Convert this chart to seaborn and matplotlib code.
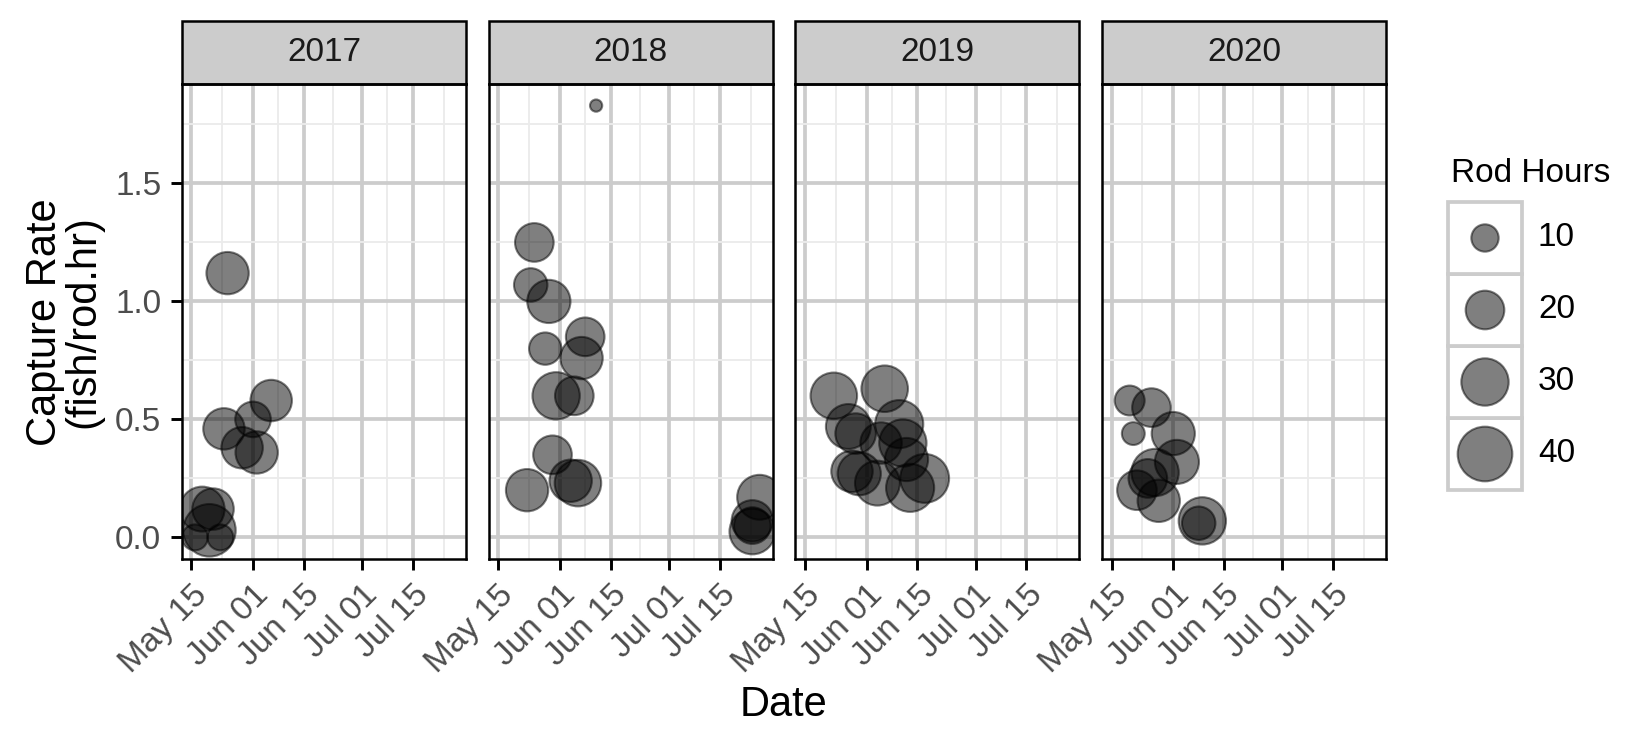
import pandas as pd
import matplotlib.pyplot as plt
import matplotlib.dates as mdates
from matplotlib.patches import Rectangle
import seaborn as sns

# === Values ===
years = [2017, 2018, 2019, 2020]

dates_2017 = ["05-25", "06-06", "06-01", "05-24", "05-29", "06-02",
              "05-18", "05-21", "05-20", "05-23", "05-16"]
rate_2017 = [1.12, 0.58, 0.50, 0.46, 0.38, 0.36, 0.12, 0.12, 0.03, 0.00, 0.00]
hours_2017 = [24, 23, 17, 23, 23, 24, 27, 23, 37, 9, 9]

dates_2018 = ["06-11", "05-25", "05-24", "05-29", "06-08", "05-28", "06-07",
              "05-31", "06-05", "05-30", "05-23", "06-04", "06-06",
              "07-26", "07-24", "07-24", "07-24"]
rate_2018 = [1.83, 1.25, 1.07, 1.00, 0.85, 0.80, 0.76,
             0.60, 0.60, 0.35, 0.20, 0.24, 0.23,
             0.17, 0.07, 0.05, 0.025]
hours_2018 = [2, 20, 15, 25, 20, 14, 24, 30, 20, 20, 24, 24, 29, 27, 23, 18, 28]

dates_2019 = ["05-23", "06-06", "05-27", "05-29", "06-10", "06-05", "06-11",
              "06-12", "05-28", "05-30", "06-04", "06-13", "06-17"]
rate_2019 = [0.60, 0.63, 0.47, 0.44, 0.48, 0.40, 0.40,
             0.33, 0.28, 0.27, 0.23, 0.21, 0.25]
hours_2019 = [29, 29, 27, 22, 31, 23, 30, 25, 23, 25, 27, 31, 32]

dates_2020 = ["05-20", "05-26", "05-21", "06-01", "06-02", "05-27",
              "05-25", "05-22", "05-28", "06-09", "06-08"]
rate_2020 = [0.58, 0.55, 0.44, 0.44, 0.32, 0.275, 0.25, 0.20, 0.155, 0.07, 0.06]
hours_2020 = [12, 20, 7, 25, 26, 30, 20, 21, 24, 30, 15]

legend_hours = [10, 20, 30, 40]
date_ticks = ["05-15", "06-01", "06-15", "07-01", "07-15"]

# === Build one long table ===
frames = []
for yr, d, r, h in zip(years,
                       [dates_2017, dates_2018, dates_2019, dates_2020],
                       [rate_2017, rate_2018, rate_2019, rate_2020],
                       [hours_2017, hours_2018, hours_2019, hours_2020]):
    frames.append(pd.DataFrame({
        "year": yr,
        "date": pd.to_datetime(["2000-" + s for s in d]),
        "rate": r,
        "hours": h,
    }))
df = pd.concat(frames, ignore_index=True)

# === Style ===
sns.set_style("white")
plt.rcParams["font.family"] = ["Liberation Sans", "DejaVu Sans"]

grid_major = "#CCCCCC"
grid_minor = "#EBEBEB"
size_range = (0, 172)
size_norm = (0, 40)

fig, axes = plt.subplots(1, 4, figsize=(5.5, 2.5), dpi=300, sharex=True, sharey=True)
fig.subplots_adjust(left=0.1103, right=0.840, top=0.888, bottom=0.2547, wspace=0.081)

# ggplot-like 5% expansion of the data range
xmin, xmax = pd.Timestamp("2000-05-16"), df["date"].max()
xpad = (xmax - xmin) * 0.05
ymin, ymax = df["rate"].min(), df["rate"].max()
ypad = (ymax - ymin) * 0.05

major_x = pd.to_datetime(["2000-" + s for s in date_ticks])
minor_x = [major_x[i] + (major_x[i + 1] - major_x[i]) / 2 for i in range(len(major_x) - 1)]
minor_x.append(major_x[-1] + (pd.Timestamp("2000-08-01") - major_x[-1]) / 2)

strip_h = 63 / 475

for ax, yr in zip(axes, years):
    sub = df[df["year"] == yr]
    sns.scatterplot(data=sub, x="date", y="rate", size="hours",
                    sizes=size_range, size_norm=size_norm,
                    color="black", alpha=0.5, edgecolor="black",
                    linewidth=0.5, legend=False, ax=ax, zorder=3)
    ax.set_xlim(xmin - xpad, xmax + xpad)
    ax.set_ylim(ymin - ypad, ymax + ypad)
    ax.set_xticks(major_x)
    ax.set_xticks(minor_x, minor=True)
    ax.xaxis.set_major_formatter(mdates.DateFormatter("%b %d"))
    ax.set_yticks([0.0, 0.5, 1.0, 1.5])
    ax.set_yticks([0.25, 0.75, 1.25, 1.75], minor=True)
    ax.yaxis.set_major_formatter(plt.FormatStrFormatter("%.1f"))
    ax.set_axisbelow(True)
    ax.grid(which="major", color=grid_major, linewidth=0.9)
    ax.grid(which="minor", color=grid_minor, linewidth=0.45)
    ax.tick_params(which="major", direction="out", length=2.75, width=0.7,
                   color="black", labelsize=8, labelcolor="#4D4D4D", pad=2.2,
                   bottom=True, left=(ax is axes[0]))
    ax.tick_params(which="minor", length=0)
    for lab in ax.get_xticklabels():
        lab.set_rotation(45)
        lab.set_ha("right")
        lab.set_rotation_mode("anchor")
    for sp in ax.spines.values():
        sp.set_color("black")
        sp.set_linewidth(0.6)
    ax.set_xlabel("")
    ax.set_ylabel("")

    # facet strip
    ax.add_patch(Rectangle((0, 1), 1, strip_h, transform=ax.transAxes,
                           facecolor="#CCCCCC", edgecolor="black",
                           linewidth=0.6, clip_on=False))
    ax.text(0.5, 1 + strip_h / 2, str(yr), transform=ax.transAxes,
            ha="center", va="center", fontsize=8, color="#1A1A1A")

fig.text(0.475, 0.06, "Date", ha="center", va="center", fontsize=10, color="black")
fig.text(0.039, 0.571, "Capture Rate\n(fish/rod.hr)", ha="center", va="center",
         rotation=90, fontsize=10, linespacing=0.95, multialignment="center",
         color="black")

# === Size legend ===
leg_ax = fig.add_axes([1448 / 1650, 1 - 490 / 750, 74 / 1650, 288 / 750])
leg_ax.set_xlim(0, 1)
leg_ax.set_ylim(0, len(legend_hours))
leg_df = pd.DataFrame({
    "x": [0.5] * len(legend_hours),
    "y": [len(legend_hours) - i - 0.5 for i in range(len(legend_hours))],
    "hours": legend_hours,
})
for i in range(len(legend_hours)):
    leg_ax.add_patch(Rectangle((0, i), 1, 1, facecolor="white",
                               edgecolor=grid_major, linewidth=0.9, clip_on=False))
sns.scatterplot(data=leg_df, x="x", y="y", size="hours", sizes=size_range,
                size_norm=size_norm, color="black", alpha=0.5, edgecolor="black",
                linewidth=0.5, legend=False, ax=leg_ax, zorder=3, clip_on=False)
leg_ax.axis("off")
for y, h in zip(leg_df["y"], legend_hours):
    leg_ax.text(1.216, y, str(h), ha="left", va="center",
                fontsize=8, color="black")
leg_ax.text(0.04, 4.40, "Rod Hours", ha="left", va="center", fontsize=8,
            color="black")

plt.savefig("out.png", dpi=300)
